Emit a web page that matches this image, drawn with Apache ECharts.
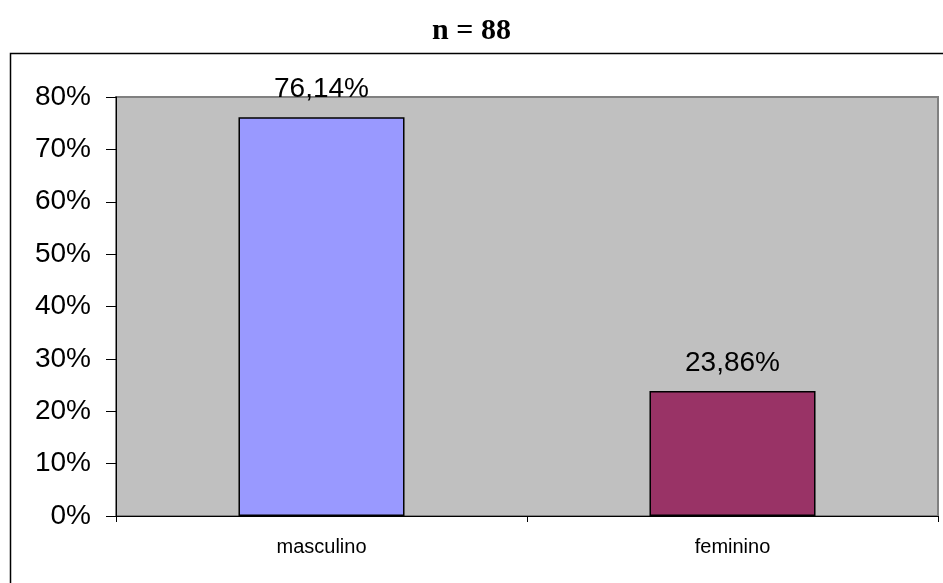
<!DOCTYPE html>
<html>
<head>
<meta charset="utf-8">
<script src="https://cdn.jsdelivr.net/npm/echarts@6/dist/echarts.min.js"></script>
<style>
  html, body { margin: 0; padding: 0; background: #fff; }
  #chart { width: 943px; height: 583px; }
</style>
</head>
<body>
<div id="chart"></div>
<script>
const categories = ["masculino", "feminino"];
const values = [76.14, 23.86];
const barColors = ["#9999FF", "#993366"];
const yTicks = [0, 10, 20, 30, 40, 50, 60, 70, 80];

const chart = echarts.init(document.getElementById('chart'));
chart.setOption({
  backgroundColor: "#fff",
  animation: false,
  title: {
    text: "n = 88",
    left: "center",
    top: 11,
    textStyle: {
      fontFamily: "Liberation Serif",
      fontWeight: "bold",
      fontSize: 30,
      color: "#000"
    }
  },
  graphic: [{
    type: "rect",
    shape: { x: 10.5, y: 53.5, width: 1000, height: 600 },
    style: { fill: "none", stroke: "#000", lineWidth: 1.5 },
    silent: true
  }],
  grid: {
    left: 116,
    right: 5,
    top: 97,
    bottom: 67,
    show: true,
    backgroundColor: "#C0C0C0",
    borderColor: "#808080",
    borderWidth: 2
  },
  xAxis: {
    type: "category",
    data: categories,
    boundaryGap: true,
    axisLine: { lineStyle: { color: "#000", width: 1 } },
    axisTick: { show: true, length: 6, lineStyle: { color: "#000" } },
    axisLabel: {
      color: "#000",
      fontFamily: "Liberation Sans",
      fontSize: 20,
      margin: 21
    }
  },
  yAxis: {
    type: "value",
    min: yTicks[0],
    max: yTicks[yTicks.length - 1],
    interval: 10,
    axisLine: { show: true, lineStyle: { color: "#000", width: 1 } },
    axisTick: { show: true, length: 10, lineStyle: { color: "#000" } },
    splitLine: { show: false },
    axisLabel: {
      formatter: "{value}%",
      color: "#000",
      fontFamily: "Liberation Sans",
      fontSize: 28,
      margin: 25
    }
  },
  series: [{
    type: "bar",
    barWidth: "40.4%",
    data: values.map((v, i) => ({
      value: v,
      itemStyle: { color: barColors[i] }
    })),
    itemStyle: { borderColor: "#000", borderWidth: 1.5 },
    label: {
      show: true,
      position: "top",
      distance: 14,
      color: "#000",
      fontFamily: "Liberation Sans",
      fontSize: 28,
      formatter: p => p.value.toFixed(2).replace(".", ",") + "%"
    }
  }]
});
</script>
</body>
</html>
